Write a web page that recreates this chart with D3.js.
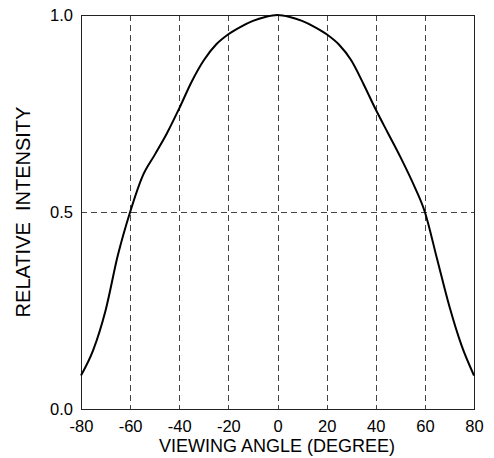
<!DOCTYPE html>
<html>
<head>
<meta charset="utf-8">
<script src="https://cdn.jsdelivr.net/npm/d3@7"></script>
<style>
html,body{margin:0;padding:0;background:#fff;}
svg{display:block;font-family:"Liberation Sans",Arial,sans-serif;}
</style>
</head>
<body>
<svg id="chart" width="494" height="458"></svg>
<script>
const angles = [-80,-75,-70,-65,-60,-55,-50,-45,-40,-35,-30,-25,-20,-15,-10,-5,0,5,10,15,20,25,30,35,40,45,50,55,60,65,70,75,80];
const intensity = [0.085,0.15,0.25,0.39,0.50,0.59,0.645,0.70,0.763,0.83,0.885,0.925,0.951,0.97,0.985,0.995,1.0,0.995,0.985,0.97,0.951,0.925,0.885,0.825,0.76,0.70,0.64,0.575,0.50,0.38,0.26,0.16,0.085];
const xTicks = [-80,-60,-40,-20,0,20,40,60,80];
const yTicks = [0.0,0.5,1.0];
const xTitle = "VIEWING ANGLE (DEGREE)";
const yTitle = "RELATIVE  INTENSITY";

const svg = d3.select("#chart");
const L = 81, R = 474, T = 15, B = 409;
const x = d3.scaleLinear().domain([-80,80]).range([L,R]);
const y = d3.scaleLinear().domain([0,1]).range([B,T]);

// grid
svg.append("g").selectAll("line").data(xTicks.slice(1,-1)).join("line")
  .attr("x1",d=>Math.round(x(d))+0.5).attr("x2",d=>Math.round(x(d))+0.5)
  .attr("y1",T).attr("y2",B)
  .attr("stroke","#444").attr("stroke-width",1).attr("stroke-dasharray","6,4");
svg.append("g").selectAll("line").data([0.5]).join("line")
  .attr("y1",d=>Math.round(y(d))+0.5).attr("y2",d=>Math.round(y(d))+0.5)
  .attr("x1",L).attr("x2",R)
  .attr("stroke","#444").attr("stroke-width",1).attr("stroke-dasharray","6,4");

// frame
svg.append("rect").attr("x",L+0.5).attr("y",T+0.5).attr("width",R-L).attr("height",B-T)
  .attr("fill","none").attr("stroke","#222").attr("stroke-width",1);

// axes labels via d3 axes (no tick lines)
const xAxis = svg.append("g").attr("transform",`translate(0,${B})`)
  .call(d3.axisBottom(x).tickValues(xTicks).tickSize(0).tickFormat(d=>String(d)));
xAxis.select(".domain").remove();
xAxis.selectAll("text").attr("y",23).attr("dy",null).attr("font-size",16.5).attr("fill","#000")
  .attr("font-family","Liberation Sans, Arial, sans-serif");

const yAxis = svg.append("g").attr("transform",`translate(${L},0)`)
  .call(d3.axisLeft(y).tickValues(yTicks).tickSize(0).tickPadding(8).tickFormat(d=>d.toFixed(1)));
yAxis.select(".domain").remove();
yAxis.selectAll("text").attr("font-size",16.5).attr("fill","#000").attr("dy","0.35em")
  .attr("font-family","Liberation Sans, Arial, sans-serif");

// curve
const line = d3.line().x((d,i)=>x(angles[i])).y(d=>y(d)).curve(d3.curveMonotoneX);
svg.append("path").datum(intensity).attr("d",line)
  .attr("fill","none").attr("stroke","#000").attr("stroke-width",2);

// titles
svg.append("text").attr("x",277).attr("y",452).attr("text-anchor","middle")
  .attr("font-size",18).text(xTitle);
svg.append("text").attr("transform",`translate(30,${(T+B)/2}) rotate(-90)`)
  .attr("text-anchor","middle").attr("font-size",20).style("white-space","pre").text(yTitle);
</script>
</body>
</html>
